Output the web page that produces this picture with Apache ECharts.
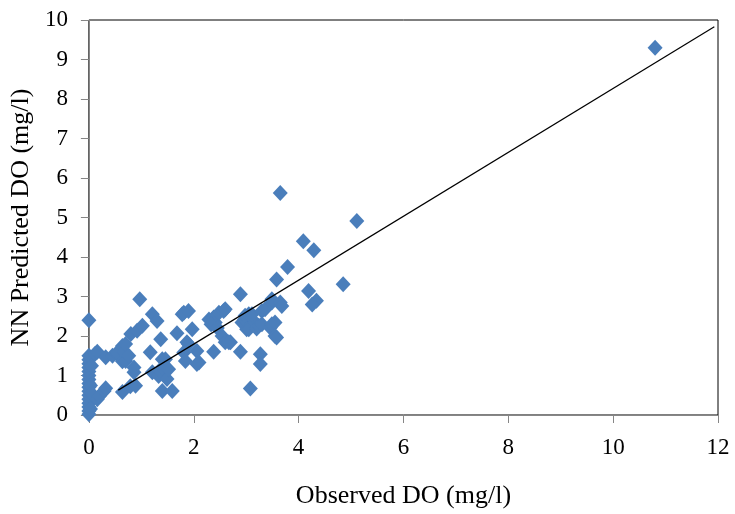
<!DOCTYPE html>
<html>
<head>
<meta charset="utf-8">
<script src="https://cdn.jsdelivr.net/npm/echarts@6/dist/echarts.min.js"></script>
<style>html,body{margin:0;padding:0;background:#fff;}#c{width:735px;height:514px;}</style>
</head>
<body>
<div id="c"></div>
<script>
// Observed DO (x) and NN predicted DO (y)
const observedDO = [
  0,0,0,0,0,0,0,0,0,0,0,0,0,0,0,0,0,
  0.03,0.03,0.05,0.05,0.12,0.16,0.16,0.2,0.29,0.32,0.32,0.45,0.54,0.54,0.64,0.64,0.67,0.70,0.70,0.76,0.64,0.79,0.86,0.86,0.89,
  0.80,0.92,0.97,1.02,1.17,1.21,1.30,1.37,1.21,1.33,1.36,1.40,1.40,1.46,1.49,1.52,1.40,1.59,
  1.68,1.78,1.81,1.90,1.97,1.87,1.90,1.81,1.84,2.06,2.10,2.06,
  2.29,2.38,2.41,2.48,2.57,2.60,2.33,2.45,2.54,2.60,2.70,2.67,2.38,2.89,
  2.89,2.92,2.97,2.98,3.05,3.01,3.05,3.17,3.20,3.24,3.30,3.11,3.30,3.36,3.46,3.49,3.55,3.55,3.58,
  3.27,3.27,3.08,3.49,3.49,3.65,3.68,3.58,3.79,3.65,4.09,4.29,4.19,4.34,4.26,4.85,5.11,10.8
];
const predictedDO = [
  0.02,0.1,0.2,0.3,0.4,0.5,0.6,0.7,0.8,0.9,1.0,1.1,1.2,1.3,1.4,1.5,2.4,
  0.15,0.75,1.25,0.55,1.55,1.6,0.40,0.48,0.61,0.68,1.46,1.50,1.54,1.58,1.36,1.75,1.6,1.8,1.37,1.50,0.58,0.73,1.08,1.2,0.74,
  2.05,2.13,2.93,2.26,1.59,2.55,2.38,1.92,1.08,0.99,1.11,1.41,1.20,1.41,0.91,1.16,0.61,0.61,
  2.07,2.55,2.59,2.63,2.17,1.84,1.79,1.58,1.37,1.62,1.33,1.29,
  2.42,2.47,2.34,2.59,2.63,2.68,2.30,2.20,2.00,1.84,1.84,1.84,1.60,1.60,
  3.06,2.34,2.42,2.51,2.55,2.17,2.17,2.34,2.19,2.26,2.30,2.55,2.63,2.68,2.21,2.30,2.34,2.00,1.96,
  1.54,1.29,0.67,2.85,2.93,2.85,2.76,3.43,3.75,5.62,4.40,4.17,3.14,2.89,2.80,3.31,4.91,9.3
];
// Fitted trend line end points
const trendX = [0.56, 11.93];
const trendY = [0.63, 9.83];
const xTicks = [0, 2, 4, 6, 8, 10, 12];
const yTicks = [0, 1, 2, 3, 4, 5, 6, 7, 8, 9, 10];

const scatterData = observedDO.map((x, i) => [x, predictedDO[i]]);
const trendData = trendX.map((x, i) => [x, trendY[i]]);

const chart = echarts.init(document.getElementById('c'), null, {renderer: 'canvas'});
const FONT = '"Liberation Serif", "Times New Roman", serif';
const axisGray = '#868686';
chart.setOption({
  animation: false,
  backgroundColor: '#fff',
  grid: {left: 86.5, right: 17, top: 20, bottom: 98, show: true, borderColor: '#000', borderWidth: 1},
  xAxis: {
    type: 'value', min: xTicks[0], max: xTicks[xTicks.length - 1], interval: 2,
    name: 'Observed DO (mg/l)', nameLocation: 'middle', nameGap: 68,
    nameTextStyle: {fontFamily: FONT, fontSize: 26, color: '#000'},
    axisLine: {show: true, onZero: false, lineStyle: {color: axisGray, width: 1}},
    axisTick: {show: true, inside: false, length: 8, lineStyle: {color: axisGray}},
    axisLabel: {fontFamily: FONT, fontSize: 23, color: '#000', margin: 21},
    splitLine: {show: false}
  },
  yAxis: {
    type: 'value', min: yTicks[0], max: yTicks[yTicks.length - 1], interval: 1,
    name: 'NN Predicted DO (mg/l)', nameLocation: 'middle', nameGap: 52,
    nameTextStyle: {fontFamily: FONT, fontSize: 26, color: '#000'},
    axisLine: {show: true, onZero: false, lineStyle: {color: axisGray, width: 1}},
    axisTick: {show: true, inside: false, length: 8, lineStyle: {color: axisGray}},
    axisLabel: {fontFamily: FONT, fontSize: 23, color: '#000', margin: 21},
    splitLine: {show: false}
  },
  series: [
    {
      type: 'scatter', data: scatterData, symbol: 'diamond', symbolSize: [15, 16],
      itemStyle: {color: '#4A7EBB', opacity: 1}, z: 2
    },
    {
      type: 'line', data: trendData, symbol: 'none', silent: true,
      lineStyle: {color: '#000', width: 1.2}, z: 3
    }
  ]
});
</script>
</body>
</html>
